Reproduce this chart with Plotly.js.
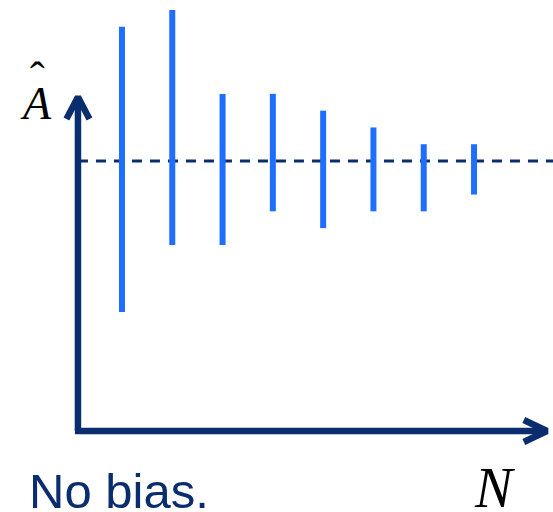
<!DOCTYPE html>
<html><head><meta charset="utf-8">
<script src="https://cdn.plot.ly/plotly-3.0.1.min.js"></script>
<style>html,body{margin:0;padding:0;background:#fff}#chart{width:553px;height:512px}</style>
</head><body><div id="chart"></div>
<script>
// Data: trial index N, estimate spread (upper / lower extent) around the true value A
const trials = [1, 2, 3, 4, 5, 6, 7, 8];
const upper  = [8, 9, 4, 4, 3, 2, 1, 1];
const lower  = [-9, -5, -5, -3, -4, -3, -3, -2];
const trueValue = 0;

const navy = 'rgb(10,45,110)';
const blue = 'rgb(30,110,255)';

// axis geometry (styling, in axis units)
const ax0 = 0.125, axY = -16.09, xTip = 9.45, yTip = 3.81;

const traces = [
  { // dashed true-value line
    x: [ax0, 9.6], y: [trueValue, trueValue], mode: 'lines',
    line: {color: navy, width: 3, dash: '10px,8px'}, hoverinfo: 'skip'
  },
  { // estimate spread bars
    x: trials, y: trials.map(() => trueValue), mode: 'markers',
    marker: {size: 0.1, color: 'rgba(0,0,0,0)'},
    error_y: {type: 'data', symmetric: false,
      array: upper.map(v => v - trueValue),
      arrayminus: lower.map(v => trueValue - v),
      color: blue, thickness: 6, width: 0}
  },
  { // axes
    x: [ax0, ax0, null, ax0 - 0.06, xTip - 0.05], y: [yTip - 0.1, axY, null, axY, axY],
    mode: 'lines', line: {color: navy, width: 6.5}
  },
  { // arrow heads
    x: [ax0 - 0.229, ax0, ax0 + 0.229, null, xTip - 0.46, xTip, xTip - 0.46],
    y: [yTip - 1.31, yTip, yTip - 1.31, null, axY + 0.656, axY, axY - 0.656],
    mode: 'lines', line: {color: navy, width: 6.5}
  }
];

const layout = {
  width: 553, height: 512, autosize: false,
  margin: {l: 0, r: 0, t: 0, b: 0, pad: 0},
  paper_bgcolor: '#fff', plot_bgcolor: '#fff', showlegend: false,
  xaxis: {range: [-1.425, 9.57], visible: false, fixedrange: true},
  yaxis: {range: [-20.918, 9.595], visible: false, fixedrange: true},
  annotations: [
    {text: 'No bias.', xref: 'paper', yref: 'paper', x: 27/553, y: 1 - 520/512,
     xanchor: 'left', yanchor: 'bottom', showarrow: false,
     font: {family: 'Liberation Sans, Arial', size: 49, color: navy}},
    {text: '<i>N</i>', xref: 'paper', yref: 'paper', x: 494/553, y: 1 - 488/512,
     xanchor: 'center', yanchor: 'middle', showarrow: false,
     font: {family: 'Liberation Serif, Times New Roman', size: 56, color: '#000'}},
    {text: '<i>A</i>', xref: 'paper', yref: 'paper', x: 36/553, y: 1 - 103/512,
     xanchor: 'center', yanchor: 'middle', showarrow: false,
     font: {family: 'Liberation Serif, Times New Roman', size: 46, color: '#000'}},
    {text: 'ˆ', xref: 'paper', yref: 'paper', x: 37/553, y: 1 - 77/512,
     xanchor: 'center', yanchor: 'middle', showarrow: false,
     font: {family: 'Liberation Serif, Times New Roman', size: 44, color: '#000'}}
  ]
};

Plotly.newPlot('chart', traces, layout, {displayModeBar: false, staticPlot: true});
</script></body></html>
